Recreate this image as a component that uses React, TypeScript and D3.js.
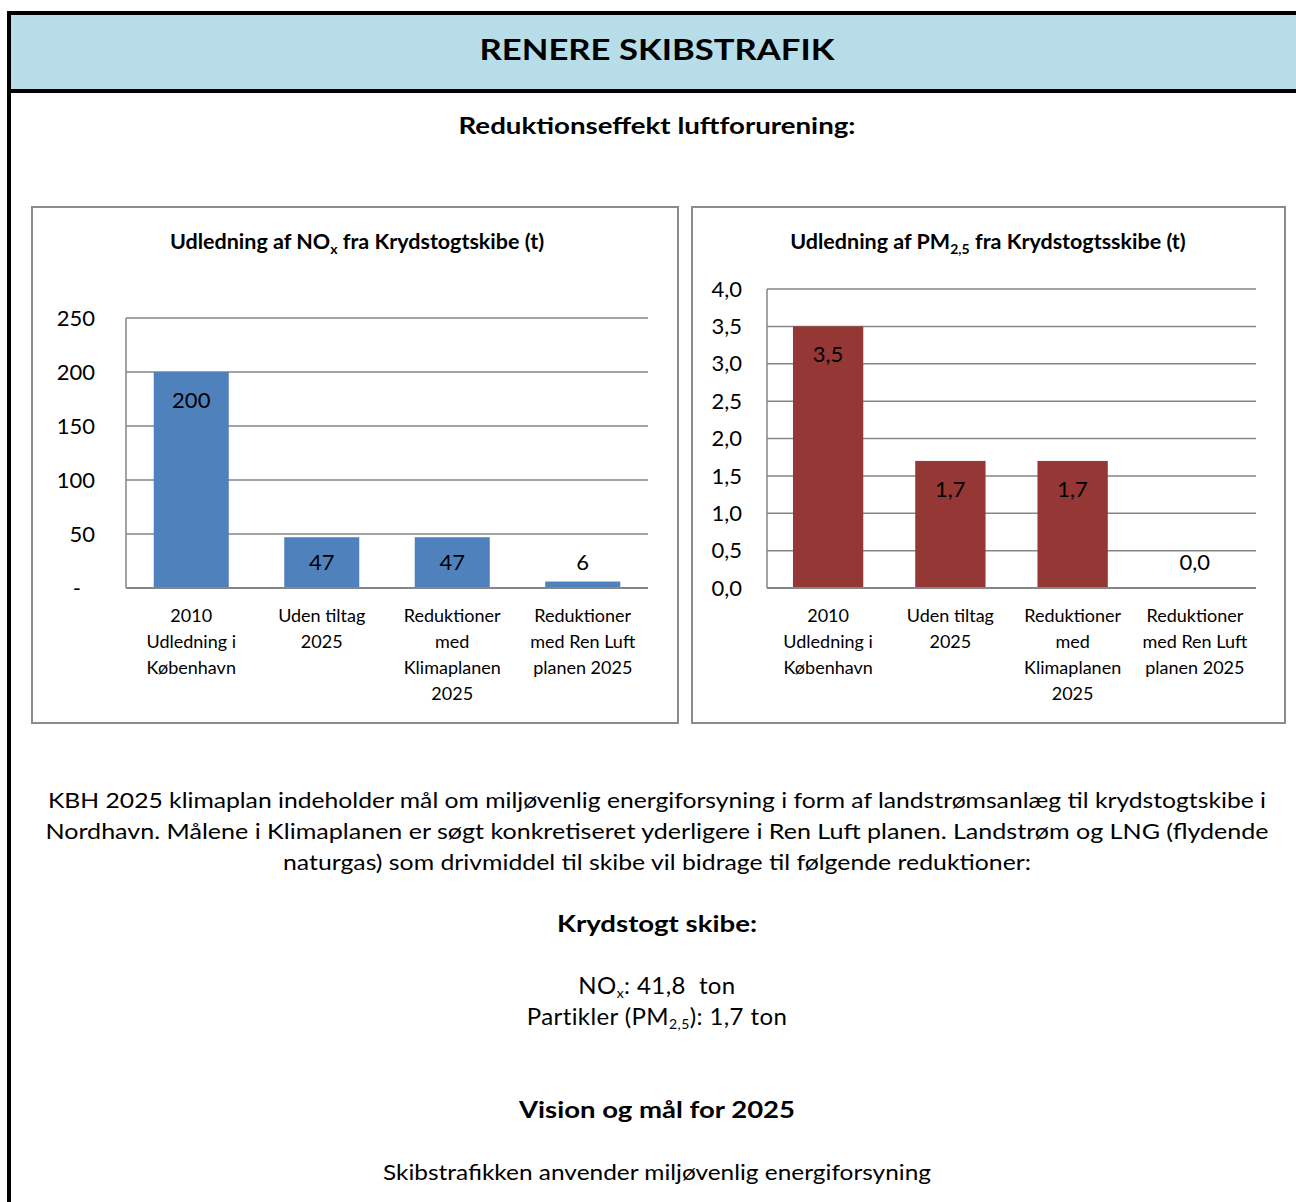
import React from 'react';
import * as d3 from 'd3';

// category labels (line broken as in the original)
const categories: string[][] = [
  ['2010', 'Udledning i', 'København'],
  ['Uden tiltag', '2025'],
  ['Reduktioner', 'med', 'Klimaplanen', '2025'],
  ['Reduktioner', 'med Ren Luft', 'planen 2025'],
];
const noxValues = [200, 47, 47, 6];
const pmValues = [3.5, 1.7, 1.7, 0.0];
const noxTicks = [0, 50, 100, 150, 200, 250];
const pmTicks = [0, 0.5, 1, 1.5, 2, 2.5, 3, 3.5, 4];

const paragraph = [
  'KBH 2025 klimaplan indeholder mål om miljøvenlig energiforsyning i form af landstrømsanlæg til krydstogtskibe i',
  'Nordhavn. Målene i Klimaplanen er søgt konkretiseret yderligere i Ren Luft planen. Landstrøm og LNG (flydende',
  'naturgas) som drivmiddel til skibe vil bidrage til følgende reduktioner:',
];
const paragraphWidths = [1218, 1223, 748];

const FONT = 'Lato, "Open Sans", sans-serif';
const GRID = '#868686';

const commaFmt = (v: number) => d3.format('.1f')(v).replace('.', ',');

interface BarChartProps {
  x0: number;
  x1: number;
  yTop: number;
  yBottom: number;
  values: number[];
  ticks: number[];
  max: number;
  color: string;
  tickFmt: (v: number) => string;
  labelFmt: (v: number) => string;
  tickRight: number;
}

const BarChart = ({ x0, x1, yTop, yBottom, values, ticks, max, color, tickFmt, labelFmt, tickRight }: BarChartProps) => {
  const x = d3.scaleBand<number>()
    .domain(d3.range(values.length))
    .range([x0, x1])
    .paddingInner(0.425)
    .paddingOuter(0.2125);
  const y = d3.scaleLinear().domain([0, max]).range([yBottom, yTop]);
  const step = x.step();

  return (
    <g>
      {ticks.map(t => {
        const label = tickFmt(t);
        // accounting style dash for zero sits left of the digits
        const lx = label === '-' ? tickRight - 14 : tickRight;
        return (
          <g key={t}>
            <line x1={x0} x2={x1} y1={y(t)} y2={y(t)} stroke={GRID} strokeWidth={1.5} />
            <text x={lx} y={y(t)} dy="0.35em" textAnchor="end" fontSize={22} fontFamily={FONT} fill="#000">
              {label}
            </text>
          </g>
        );
      })}
      <line x1={x0} x2={x0} y1={y(max)} y2={y(0)} stroke={GRID} strokeWidth={1.5} />
      {values.map((v, i) => (
        <rect key={i} x={x(i)} y={y(v)} width={x.bandwidth()} height={y(0) - y(v)} fill={color} />
      ))}
      <line x1={x0} x2={x1} y1={y(0)} y2={y(0)} stroke={GRID} strokeWidth={2} />
      {values.map((v, i) => (
        <text key={i} x={x(i)! + x.bandwidth() / 2} y={Math.min(y(v) + 28, y(0) - 26)} dy="0.35em"
          textAnchor="middle" fontSize={22} fontFamily={FONT} fill="#000">
          {labelFmt(v)}
        </text>
      ))}
      {categories.map((lines, i) => (
        <text key={i} textAnchor="middle" fontSize={18} fontFamily={FONT} fill="#000">
          {lines.map((l, j) => (
            <tspan key={j} x={x0 + step * (i + 0.5)} y={yBottom + 34 + j * 26}>{l}</tspan>
          ))}
        </text>
      ))}
    </g>
  );
};

const App = () => {
  return (
    <div style={{ position: 'absolute', left: 0, top: 0 }}>
      <svg width={1296} height={1202} style={{ display: 'block', background: '#fff' }}>
        {/* header band */}
        <rect x={11} y={15} width={1285} height={74} fill="#b7dde8" />
        <rect x={7} y={11} width={1289} height={4} fill="#000" />
        <rect x={7} y={11} width={4} height={1191} fill="#000" />
        <rect x={11} y={89} width={1285} height={4} fill="#000" />
        <text x={657} y={60} textAnchor="middle" fontSize={29} fontWeight="bold" fontFamily={FONT} fill="#000"
          textLength={355} lengthAdjust="spacingAndGlyphs">RENERE SKIBSTRAFIK</text>

        <text x={657} y={134} textAnchor="middle" fontSize={22} fontWeight="bold" fontFamily={FONT} fill="#000"
          textLength={397} lengthAdjust="spacingAndGlyphs">Reduktionseffekt luftforurening:</text>

        {/* left chart frame */}
        <rect x={32} y={207} width={646} height={516} fill="#fff" stroke="#8c8c8c" strokeWidth={2} />
        <text x={357} y={249} textAnchor="middle" fontSize={21.5} fontWeight="bold" fontFamily={FONT} fill="#000">
          Udledning af NO<tspan fontSize={14} dy={5}>x</tspan><tspan dy={-5}> fra Krydstogtskibe (t)</tspan>
        </text>
        <BarChart x0={126} x1={648} yTop={318} yBottom={588} values={noxValues} ticks={noxTicks} max={250}
          color="#4f81bd" tickFmt={v => (v === 0 ? '-' : String(v))} labelFmt={v => String(v)} tickRight={95} />

        {/* right chart frame */}
        <rect x={692} y={207} width={593} height={516} fill="#fff" stroke="#8c8c8c" strokeWidth={2} />
        <text x={988} y={249} textAnchor="middle" fontSize={21.5} fontWeight="bold" fontFamily={FONT} fill="#000">
          Udledning af PM<tspan fontSize={14} dy={5}>2,5</tspan><tspan dy={-5}> fra Krydstogtsskibe (t)</tspan>
        </text>
        <BarChart x0={767} x1={1256} yTop={289} yBottom={588} values={pmValues} ticks={pmTicks} max={4}
          color="#953735" tickFmt={commaFmt} labelFmt={commaFmt} tickRight={742} />

        {/* text below */}
        {paragraph.map((l, i) => (
          <text key={i} x={657} y={808 + i * 31} textAnchor="middle" fontSize={22} fontFamily={FONT} fill="#000"
            textLength={paragraphWidths[i]} lengthAdjust="spacingAndGlyphs">{l}</text>
        ))}
        <text x={657} y={932} textAnchor="middle" fontSize={22} fontWeight="bold" fontFamily={FONT} fill="#000"
          textLength={200} lengthAdjust="spacingAndGlyphs">Krydstogt skibe:</text>
        <text x={657} y={994} textAnchor="middle" fontSize={24} letterSpacing={0.4} fontFamily={FONT} fill="#000" xmlSpace="preserve">
          NO<tspan fontSize={14} dy={4}>x</tspan><tspan dy={-4}>: 41,8  ton</tspan>
        </text>
        <text x={657} y={1025} textAnchor="middle" fontSize={24} letterSpacing={0.4} fontFamily={FONT} fill="#000">
          Partikler (PM<tspan fontSize={14} dy={4}>2,5</tspan><tspan dy={-4}>): 1,7 ton</tspan>
        </text>
        <text x={657} y={1118} textAnchor="middle" fontSize={22} fontWeight="bold" fontFamily={FONT} fill="#000"
          textLength={276} lengthAdjust="spacingAndGlyphs">Vision og mål for 2025</text>
        <text x={657} y={1180} textAnchor="middle" fontSize={22} fontFamily={FONT} fill="#000"
          textLength={548} lengthAdjust="spacingAndGlyphs">Skibstrafikken anvender miljøvenlig energiforsyning</text>
      </svg>
    </div>
  );
};

export default App;
